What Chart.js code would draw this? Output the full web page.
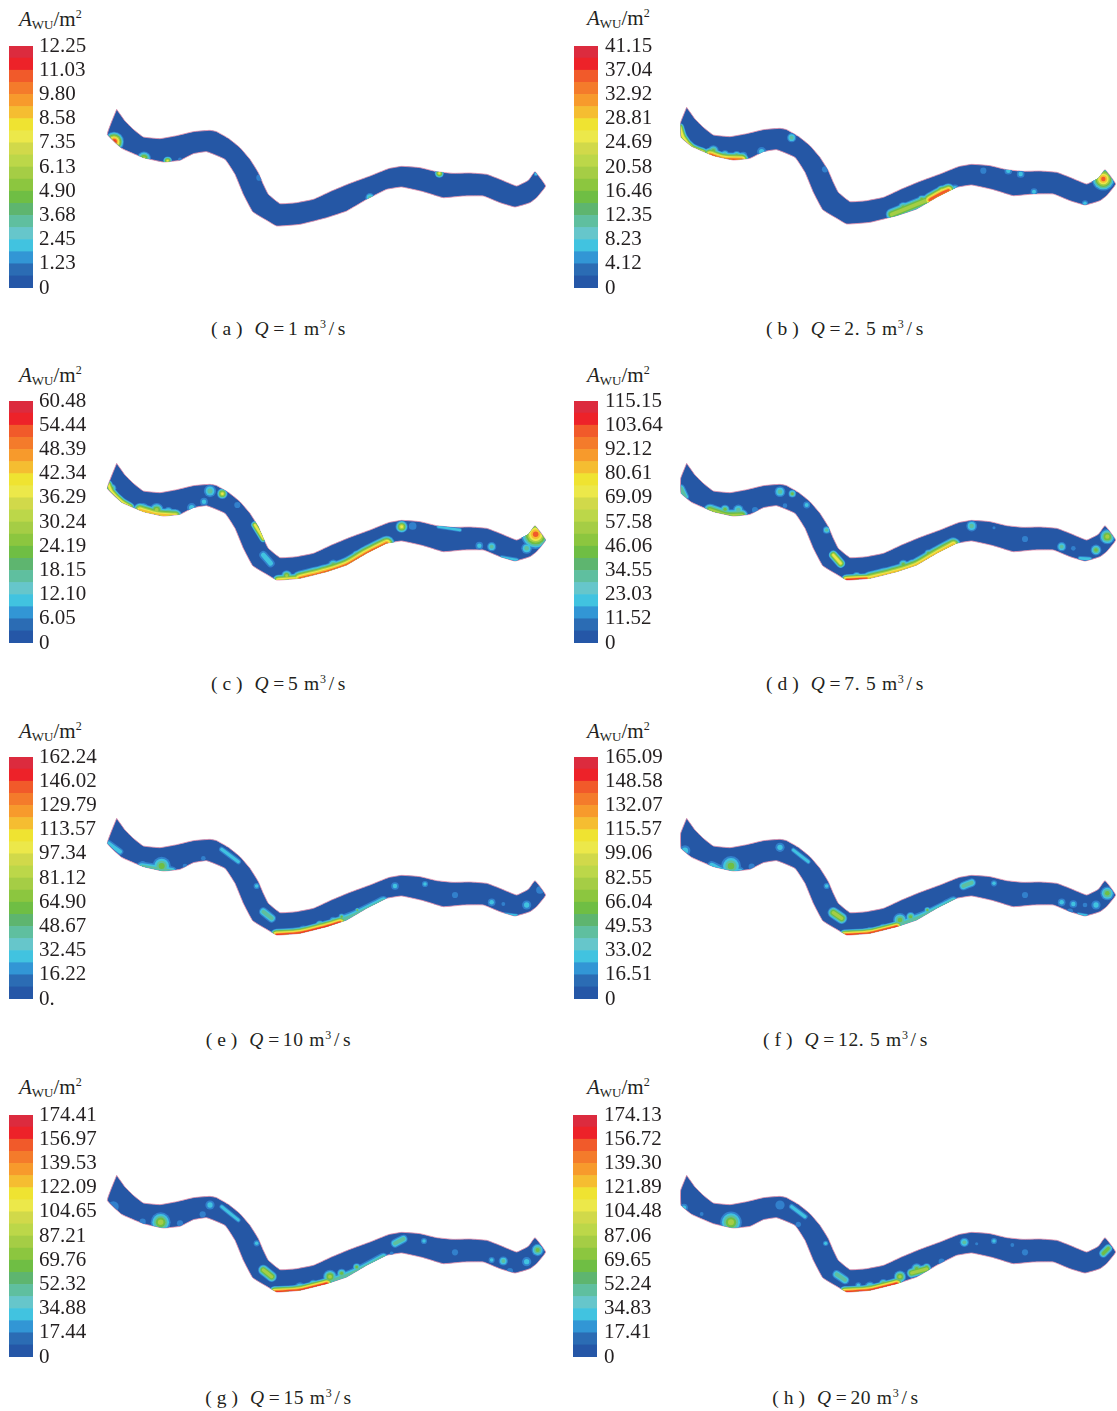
<!DOCTYPE html>
<html>
<head>
<meta charset="utf-8">
<title>AWU</title>
<script src="https://cdn.jsdelivr.net/npm/chart.js@4/dist/chart.umd.min.js"></script>
<style>
html, body { margin: 0; padding: 0; background: #fff; }
#page { position: relative; width: 1117px; height: 1411px; overflow: hidden; font-family: "Liberation Serif", "Noto Sans CJK SC", serif; color: #231f20; }
canvas { position: absolute; }
canvas.river { filter: blur(0.7px); }
.name { position: absolute; font-size: 21px; line-height: 24px; white-space: nowrap; }
.name .wu { font-size: 13px; position: relative; top: 3px; }
.name sup { font-size: 12px; line-height: 0; vertical-align: 8px; }
.cap { position: absolute; font-size: 19.5px; line-height: 22px; white-space: nowrap; transform: translateX(-50%); letter-spacing: 0.7px; }
.cap sup { font-size: 12px; line-height: 0; vertical-align: 7px; }
.cap .par { letter-spacing: 5px; margin-right: 7px; }
.cap .sl { margin: 0 3px 0 2px; }
.cap .eq { margin: 0 3px 0 4px; }
</style>
</head>
<body>
<div id="page"></div>
<script>
// colour bar, bottom to top
const barColors = ['#2557a7','#2b6cb4','#3296d5','#41c3e0','#66c6cb','#5fbf9f','#5eb56f','#6fbe44','#8cc63f','#a5cd45',
                   '#bcd749','#d1d94a','#ece84a','#efe331','#f5bd31','#f79a2c','#f47b2b','#f15a2a','#ed2229','#dc2b3e'];
// contour rings around a hot spot, outer to inner
const ringColors = ['#3280cc','#41c3e0','#5fbf9f','#6fbe44','#a5cd45','#ece84a','#f5bd31','#f15a2a','#ed2229'];

// tick labels, top to bottom
const ticksA = ['12.25','11.03','9.80','8.58','7.35','6.13','4.90','3.68','2.45','1.23','0'];
const ticksB = ['41.15','37.04','32.92','28.81','24.69','20.58','16.46','12.35','8.23','4.12','0'];
const ticksC = ['60.48','54.44','48.39','42.34','36.29','30.24','24.19','18.15','12.10','6.05','0'];
const ticksD = ['115.15','103.64','92.12','80.61','69.09','57.58','46.06','34.55','23.03','11.52','0'];
const ticksE = ['162.24','146.02','129.79','113.57','97.34','81.12','64.90','48.67','32.45','16.22','0.'];
const ticksF = ['165.09','148.58','132.07','115.57','99.06','82.55','66.04','49.53','33.02','16.51','0'];
const ticksG = ['174.41','156.97','139.53','122.09','104.65','87.21','69.76','52.32','34.88','17.44','0'];
const ticksH = ['174.13','156.72','139.30','121.89','104.48','87.06','69.65','52.24','34.83','17.41','0'];

// river outline, tip first, going along the top bank and back along the lower bank
const riverX = [50,75,100,130,180,230,280,330,350,385,420,450,475,490,505,540,590,640,690,750,810,865,905,960,1010,1060,1110,1160,1200,1250,1285,1305,1337,1310,1290,1245,1200,1150,1090,1030,970,905,860,800,740,680,600,530,495,458,430,405,375,320,280,240,190,130,65];
const riverY = [25,60,85,108,113,104,92,88,92,112,140,175,215,250,280,308,305,295,272,247,225,203,196,200,212,217,216,220,235,255,238,212,255,290,305,318,305,285,285,290,272,258,265,295,330,350,370,375,355,332,280,220,175,152,158,178,183,170,142];
// upstream end differs between the two columns
const endLeftX = [22];
const endLeftY = [100];
const endRightX = [33,32];
const endRightY = [115,70];

// spots: x, y, radius, rings
const spotsA = [[42,122,26,9],[132,172,18,5],[203,180,12,6],[240,175,5,1],[478,230,8,1],[810,290,12,3],[1018,217,12,6],[1308,219,6,2]];
const spotsB = [[365,116,12,3],[275,158,12,2],[220,170,10,2],[465,211,8,1],[855,268,10,2],[940,215,8,1],[1015,215,10,2],[1052,225,10,2],[1092,278,9,2],[1245,313,8,2],
  [130,155,14,4],[165,165,10,3],[200,170,12,4],[700,325,14,4],[755,300,10,4],[815,275,14,6],[845,272,10,3],[1300,240,30,8]];
const spotsC = [[330,108,16,3],[367,116,14,6],[312,140,10,2],[275,158,12,2],[412,150,8,1],[170,165,18,5],[905,215,16,6],[938,213,10,1],[1138,272,10,2],[1175,275,12,3],[1280,280,14,3],
  [130,160,14,3],[205,170,12,3],[700,330,14,4],[770,300,12,4],[850,265,10,3],[560,362,14,5],[640,352,12,3],[35,100,12,4],[1307,238,38,8]];
const spotsD = [[165,163,12,4],[205,165,14,3],[255,165,8,1],[330,110,14,3],[367,116,10,4],[410,150,9,2],[345,152,6,1],[470,225,10,3],[775,295,10,4],[905,213,14,3],[972,218,4,1],[1065,252,8,1],[1175,275,12,3],[1210,280,6,1],[1278,285,14,4],[1312,245,20,5],
  [125,160,10,2],[700,328,12,4],[725,325,10,4],[640,350,10,3],[560,365,12,4]];
const spotsE = [[185,168,24,4],[128,162,8,1],[255,168,6,1],[310,145,6,1],[470,228,8,2],[725,320,8,4],[772,300,6,4],[885,228,10,2],[975,222,8,2],[1065,255,8,1],[1175,277,10,2],[1210,282,5,1],[1280,285,12,2],[1320,240,10,1],
  [610,360,12,3],[660,345,12,4],[700,332,10,3],[830,280,8,2]];
const spotsF = [[45,122,14,2],[183,168,26,4],[245,170,8,1],[330,112,12,2],[470,228,8,2],[690,330,18,4],[722,320,12,4],[772,300,8,4],[972,220,8,2],[1065,255,8,1],[1175,277,10,2],[1210,282,10,2],[1278,285,12,2],[1245,285,6,1],[1200,305,8,1],[1312,250,18,4],
  [600,365,12,3],[640,355,12,4],[830,280,10,2],[800,300,10,3]];
const spotsG = [[40,119,14,1],[182,166,26,5],[128,164,8,1],[240,169,8,1],[330,114,12,2],[308,142,8,1],[470,229,8,2],[690,329,18,5],[725,319,12,4],[972,222,8,2],[1065,256,8,1],[1175,279,8,2],[1210,282,12,3],[1280,284,12,2],[1230,312,8,1],[875,259,5,1],[1313,249,16,4],
  [600,362,14,3],[640,352,12,4],[770,300,10,4],[820,285,8,2]];
const spotsH = [[42,122,10,2],[95,141,5,1],[183,166,28,5],[330,114,12,1],[385,172,7,1],[467,229,7,2],[690,329,16,5],[815,284,8,1],[883,226,12,3],[920,230,4,1],[972,222,8,2],[1027,234,5,1],[1065,256,8,1],
  [600,360,14,3],[640,350,12,4],[565,355,8,2],[740,305,14,4],[770,300,10,4]];

// bands along the banks: centre line, width, rings
const bandsA = [];
const bandsB = [
  [[[30,85],[40,115],[65,145],[100,160]],26,6],
  [[[120,168],[160,181],[215,183]],44,8],
  [[[665,346],[710,328],[765,306]],36,5],
  [[[780,303],[810,286],[835,275]],44,8]
];
const bandsC = [
  [[[25,88],[35,110],[65,140],[90,155]],26,6],
  [[[120,166],[170,180],[225,184]],44,7],
  [[[465,210],[490,250]],24,6],
  [[[490,300],[512,325]],24,2],
  [[[535,377],[585,374]],36,7],
  [[[600,372],[680,352],[740,332],[800,297],[860,267]],50,8],
  [[[1015,215],[1080,225]],12,2],
  [[[1205,308],[1250,315]],14,2]
];
const bandsD = [
  [[[33,100],[45,125]],24,3],
  [[[120,166],[170,182],[215,182]],40,5],
  [[[490,300],[512,325]],28,6],
  [[[530,376],[590,373]],36,9],
  [[[600,372],[680,352],[740,332],[800,297],[850,270]],46,7],
  [[[1230,310],[1260,312]],14,2]
];
const bandsE = [
  [[[25,100],[60,125]],20,2],
  [[[125,172],[180,180],[215,186]],34,3],
  [[[365,118],[415,155]],16,2],
  [[[490,305],[515,325]],26,3],
  [[[530,377],[600,372],[680,352],[720,340]],42,9],
  [[[700,342],[770,314],[850,274]],32,3],
  [[[1215,312],[1250,316]],10,2]
];
const bandsF = [
  [[[125,166],[165,184],[210,184]],26,2],
  [[[370,120],[415,155]],14,2],
  [[[490,308],[515,325]],34,5],
  [[[525,377],[600,372],[680,352]],38,9],
  [[[700,342],[770,314],[850,274]],30,3],
  [[[880,228],[905,218]],26,3],
  [[[1225,312],[1250,316]],10,2]
];
const bandsG = [
  [[[365,119],[415,159]],14,2],
  [[[490,309],[515,329]],32,5],
  [[[525,377],[600,372],[680,352]],40,9],
  [[[700,342],[770,314],[850,272]],30,3],
  [[[885,229],[910,216]],26,3]
];
const bandsH = [
  [[[365,119],[405,149]],16,2],
  [[[500,322],[525,339]],26,3],
  [[[525,377],[600,372],[680,352]],40,9],
  [[[725,318],[770,306]],30,5],
  [[[1300,259],[1315,244]],26,4]
];

// keeps the contours inside the banks
const riverClip = {
  id: 'riverClip',
  beforeDatasetDraw(chart, args) {
    if (!chart.data.datasets[args.index].inRiver) return;
    const pts = chart.data.datasets[0].data;
    const ctx = chart.ctx;
    ctx.save();
    ctx.beginPath();
    pts.forEach((p, i) => {
      const x = chart.scales.x.getPixelForValue(p.x);
      const y = chart.scales.y.getPixelForValue(p.y);
      if (i === 0) ctx.moveTo(x, y); else ctx.lineTo(x, y);
    });
    ctx.closePath();
    ctx.clip();
  },
  afterDatasetDraw(chart, args) {
    if (chart.data.datasets[args.index].inRiver) chart.ctx.restore();
  }
};

const page = document.getElementById('page');

function addCanvas(left, top, w, h, cls) {
  const c = document.createElement('canvas');
  c.width = w; c.height = h;
  c.style.left = left + 'px';
  c.style.top = top + 'px';
  c.style.width = w + 'px';
  c.style.height = h + 'px';
  if (cls) c.className = cls;
  page.appendChild(c);
  return c;
}

function drawRiver(left, top, endX, endY, spots, bands) {
  const xs = riverX.concat(endX, riverX[0]);
  const ys = riverY.concat(endY, riverY[0]);
  const datasets = [{
    type: 'line',
    data: xs.map((x, i) => ({x: x, y: ys[i]})),
    fill: 'shape',
    backgroundColor: '#2557a5',
    borderColor: '#e88fab',
    borderWidth: 0.8,
    pointRadius: 0,
    tension: 0.1,
    order: 100
  }];
  ringColors.forEach((color, i) => {
    datasets.push({
      type: 'bubble',
      inRiver: true,
      data: spots.filter(s => s[3] > i).map(s => ({x: s[0], y: s[1], r: s[2] / 2.6 * Math.pow(1 - i / s[3], 0.8)})),
      backgroundColor: color,
      borderWidth: 0,
      order: 50 - i
    });
    bands.filter(b => b[2] > i).forEach(b => {
      datasets.push({
        type: 'line',
        inRiver: true,
        data: b[0].map(p => ({x: p[0], y: p[1]})),
        borderColor: color,
        borderWidth: b[1] / 3 * Math.pow(1 - i / b[2], 0.75),
        borderCapStyle: 'round',
        borderJoinStyle: 'round',
        pointRadius: 0,
        tension: 0.3,
        fill: false,
        order: 50 - i
      });
    });
  });
  new Chart(addCanvas(left, top, 450, 135, 'river'), {
    type: 'bubble',
    data: {datasets: datasets},
    plugins: [riverClip],
    options: {
      responsive: false,
      animation: false,
      devicePixelRatio: 1,
      events: [],
      layout: {padding: 0, autoPadding: false},
      plugins: {legend: {display: false}, tooltip: {enabled: false}},
      scales: {
        x: {type: 'linear', display: false, min: 0, max: 1350},
        y: {type: 'linear', display: false, min: 0, max: 405, reverse: true}
      }
    }
  });
}

function drawBar(left, padLeft, tickGap, top, ticks) {
  const maxValue = parseFloat(ticks[0]);
  const step = maxValue / 10;
  new Chart(addCanvas(left, top - 14, 100, 270), {
    type: 'bar',
    data: {
      labels: [''],
      datasets: barColors.map(c => ({
        data: [maxValue / 20],
        backgroundColor: c,
        borderWidth: 0,
        barPercentage: 1,
        categoryPercentage: 1
      }))
    },
    options: {
      responsive: false,
      animation: false,
      devicePixelRatio: 1,
      events: [],
      layout: {padding: {left: padLeft, right: 0, top: 14, bottom: 14}, autoPadding: false},
      plugins: {legend: {display: false}, tooltip: {enabled: false}},
      scales: {
        x: {display: false, stacked: true},
        y: {
          position: 'right',
          stacked: true,
          min: 0,
          max: maxValue,
          grid: {display: false, drawTicks: false},
          border: {display: false},
          afterBuildTicks: s => { s.ticks = ticks.map((t, i) => ({value: (10 - i) * step})); },
          afterFit: s => { s.width = 100 - 24 - padLeft; s.paddingTop = 0; s.paddingBottom = 0; },
          ticks: {
            autoSkip: false,
            padding: tickGap,
            color: '#231f20',
            font: {family: 'Liberation Serif', size: 21},
            callback: (v, i) => ticks[i]
          }
        }
      }
    }
  });
}

function addText(cls, left, top, html) {
  const d = document.createElement('div');
  d.className = cls;
  d.style.left = left + 'px';
  d.style.top = top + 'px';
  d.innerHTML = html;
  page.appendChild(d);
}

function caption(letter, flow) {
  return '<span class="par">(' + letter + ')</span><i>Q</i><span class="eq">=</span>' + flow + ' m<sup>3</sup><span class="sl">/</span>s';
}

function panel(col, nameTop, barLeft, barTop, riverTop, ticks, spots, bands, capX, capTop, cap) {
  addText('name', col === 0 ? 19 : 587, nameTop, '<i>A</i><span class="wu">WU</span>/m<sup>2</sup>');
  drawBar(barLeft, col === 0 ? 9 : 8, col === 0 ? 6 : 7, barTop, ticks);
  drawRiver(col === 0 ? 100 : 670, riverTop, col === 0 ? endLeftX : endRightX, col === 0 ? endLeftY : endRightY, spots, bands);
  addText('cap', capX, capTop, cap);
}

panel(0, 7, 0, 46, 101, ticksA, spotsA, bandsA, 278.5, 318, caption('a', '1'));
panel(1, 6, 566, 46, 99, ticksB, spotsB, bandsB, 845, 318, caption('b', '2. 5'));
panel(0, 363, 0, 401, 455, ticksC, spotsC, bandsC, 278.5, 673, caption('c', '5'));
panel(1, 363, 566, 401, 455, ticksD, spotsD, bandsD, 845, 673, caption('d', '7. 5'));
panel(0, 719, 0, 757, 810, ticksE, spotsE, bandsE, 278.5, 1029, caption('e', '10'));
panel(1, 719, 566, 757, 810, ticksF, spotsF, bandsF, 845.5, 1029, caption('f', '12. 5'));
panel(0, 1075, 0, 1115, 1167, ticksG, spotsG, bandsG, 278.5, 1387, caption('g', '15'));
panel(1, 1075, 565, 1115, 1167, ticksH, spotsH, bandsH, 845.5, 1387, caption('h', '20'));
</script>
</body>
</html>
